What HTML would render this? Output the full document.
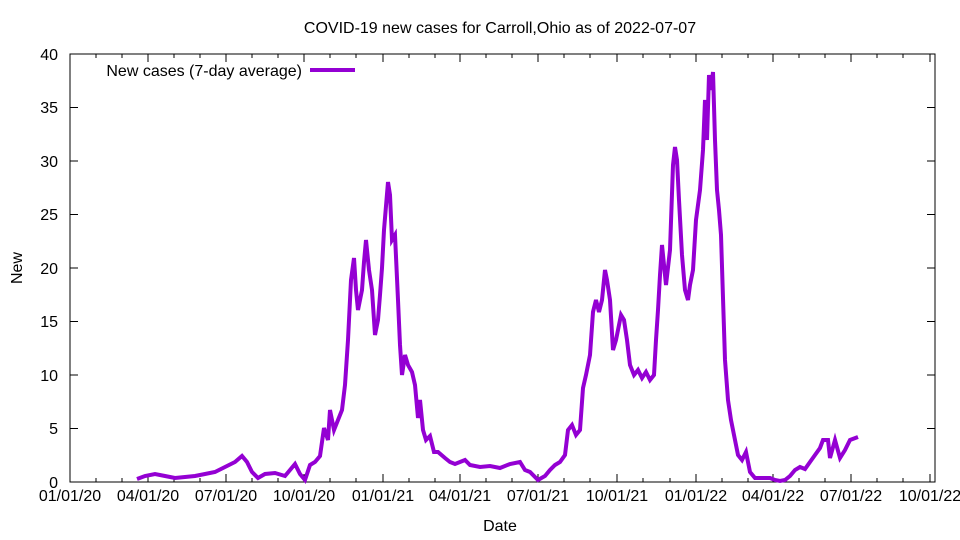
<!DOCTYPE html>
<html><head><meta charset="utf-8"><style>body{margin:0;background:#fff}svg{display:block}text{font-family:"Liberation Sans",sans-serif;font-size:16px;fill:#000}</style></head><body>
<svg width="960" height="540" viewBox="0 0 960 540">
<rect x="70" y="54" width="865" height="428" fill="none" stroke="#000" stroke-width="1"/>
<g text-anchor="end">
<text x="58" y="488">0</text><text x="58" y="434">5</text><text x="58" y="381">10</text><text x="58" y="327">15</text><text x="58" y="274">20</text><text x="58" y="220">25</text><text x="58" y="167">30</text><text x="58" y="113">35</text><text x="58" y="60">40</text>
</g>
<g stroke="#000">
<path d="M70 428.5h8M935 428.5h-8M70 375h8M935 375h-8M70 321.5h8M935 321.5h-8M70 268h8M935 268h-8M70 214.5h8M935 214.5h-8M70 161h8M935 161h-8M70 107.5h8M935 107.5h-8"/>
<path d="M70 482v-8M148 482v-8M226 482v-8M304 482v-8M383 482v-8M460 482v-8M538 482v-8M617 482v-8M696 482v-8M773 482v-8M851 482v-8M930 482v-8M148 54v8M226 54v8M304 54v8M383 54v8M460 54v8M538 54v8M617 54v8M696 54v8M773 54v8M851 54v8M930 54v8"/>
<path d="M96 482v-4M122 482v-4M174 482v-4M200 482v-4M252 482v-4M278 482v-4M330 482v-4M356 482v-4M409 482v-4M435 482v-4M486 482v-4M512 482v-4M564 482v-4M590 482v-4M643 482v-4M670 482v-4M722 482v-4M748 482v-4M799 482v-4M825 482v-4M877 482v-4M903 482v-4M96 54v4M122 54v4M174 54v4M200 54v4M252 54v4M278 54v4M330 54v4M356 54v4M409 54v4M435 54v4M486 54v4M512 54v4M564 54v4M590 54v4M643 54v4M670 54v4M722 54v4M748 54v4M799 54v4M825 54v4M877 54v4M903 54v4"/>
</g>
<g text-anchor="middle">
<text x="70" y="501">01/01/20</text><text x="148" y="501">04/01/20</text><text x="226" y="501">07/01/20</text><text x="304" y="501">10/01/20</text><text x="383" y="501">01/01/21</text><text x="460" y="501">04/01/21</text><text x="538" y="501">07/01/21</text><text x="617" y="501">10/01/21</text><text x="696" y="501">01/01/22</text><text x="773" y="501">04/01/22</text><text x="851" y="501">07/01/22</text><text x="930" y="501">10/01/22</text>
<text x="500" y="531">Date</text>
<text x="500" y="33">COVID-19 new cases for Carroll,Ohio as of 2022-07-07</text>
</g>
<text x="22" y="268" text-anchor="middle" transform="rotate(-90 22 268)">New</text>
<text x="302" y="76" text-anchor="end">New cases (7-day average)</text>
<path d="M310 70h45" stroke="#9400d3" stroke-width="4"/>
<polyline fill="none" stroke="#9400d3" stroke-width="4" stroke-linejoin="miter" points="137,479 145,476 155,474 165,476 175,478 185,477 195,476 205,474 215,472 225,467 235,462 242,456 247,462 252,472 258,478 265,474 275,473 285,476 290,470 295,464 300,474 305,480 310,465 315,462 320,456 324,428 328,440 330,410 334,430 338,420 342,410 345,385 348,340 351,280 354,258 356,290 358,310 362,290 364,262 366,240 369,270 372,290 375,335 378,320 380,295 382,268 384,230 388,182 390,195 392,240 395,235 398,300 400,345 402,375 405,355 408,365 412,372 415,385 418,418 420,400 423,430 426,440 430,436 434,452 438,452 445,458 450,462 455,464 460,462 465,460 470,465 480,467 490,466 500,468 510,464 520,462 525,470 530,472 538,480 545,476 550,470 555,465 560,462 565,455 568,430 572,425 576,435 580,430 583,388 586,375 590,355 593,312 596,300 599,312 602,300 605,270 607,280 610,300 613,350 616,340 618,330 621,315 624,320 627,340 630,365 634,375 638,370 642,378 646,372 650,380 654,375 656,340 658,310 660,275 662,245 664,265 666,285 670,250 673,165 675,147 677,160 679,200 682,255 685,290 688,300 690,285 693,270 696,220 700,190 703,150 705,100 707,140 709,75 711,90 713,72 715,140 717,190 719,210 721,235 723,298 725,360 728,400 731,420 735,440 738,455 742,460 746,452 750,472 755,478 765,478 770,478 775,480 780,481 785,480 790,476 795,470 800,467 805,469 810,462 815,455 820,448 823,440 828,440 830,458 835,440 840,458 845,450 850,440 858,437"/>
</svg>
</body></html>
